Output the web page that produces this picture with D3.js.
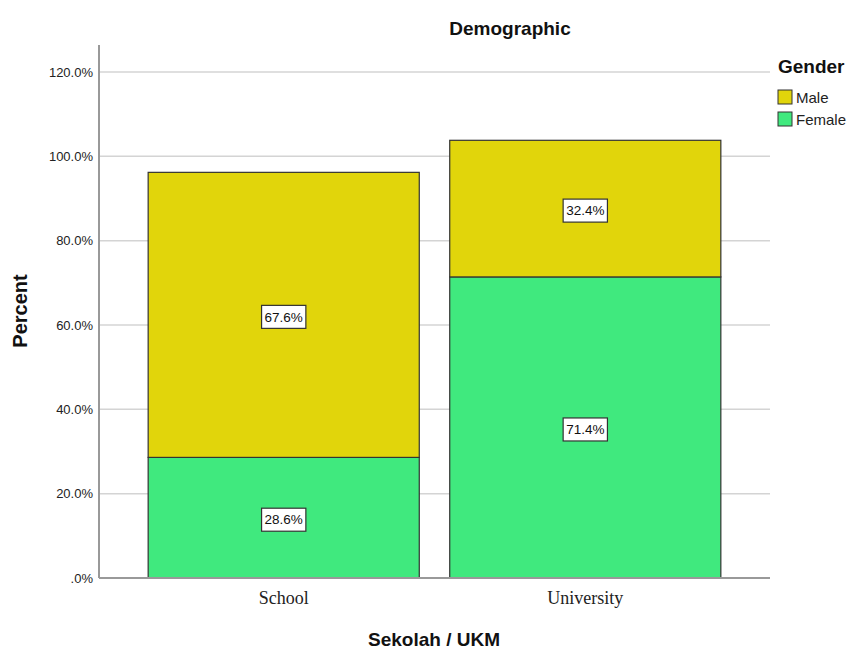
<!DOCTYPE html>
<html><head><meta charset="utf-8">
<script src="https://d3js.org/d3.v7.min.js"></script>
<style>body{margin:0;background:#fff}</style>
</head><body>
<script>
const categories = ["School", "University"];
const seriesNames = ["Female", "Male"];
const femaleValues = [28.6, 71.4];
const maleValues = [67.6, 32.4];
const yTicks = [0, 20, 40, 60, 80, 100, 120];
const legendOrder = ["Male", "Female"];
const colors = {Male: "#e1d50b", Female: "#40e97e"};

const W = 850, H = 650;
const svg = d3.select("body").append("svg").attr("width", W).attr("height", H)
  .style("font-family", "Arial, 'Liberation Sans', sans-serif");

const x0 = 99, x1 = 770, yBot = 578, yTop = 45;
const y = d3.scaleLinear().domain([0, 126.4]).range([yBot, yTop]);
const x = d3.scaleBand().domain(categories).range([x0, x1]).paddingInner(0.101).paddingOuter(0.163);

// grid
svg.append("g").selectAll("line").data(yTicks.filter(d => d > 0)).join("line")
  .attr("x1", x0).attr("x2", x1).attr("y1", d => y(d)).attr("y2", d => y(d))
  .attr("stroke", "#d4d4d4").attr("stroke-width", 1.5);

// y axis labels
svg.append("g").selectAll("text").data(yTicks).join("text")
  .attr("x", 93).attr("y", d => y(d)).attr("dy", "0.35em")
  .attr("text-anchor", "end").attr("font-size", 13).attr("fill", "#222")
  .text(d => d === 0 ? ".0%" : d.toFixed(1) + "%");

// stacked data
const rows = categories.map((c, i) => ({cat: c, Female: femaleValues[i], Male: maleValues[i]}));
const stack = d3.stack().keys(seriesNames)(rows);

const g = svg.append("g");
stack.forEach(layer => {
  const key = layer.key;
  layer.forEach(seg => {
    const cat = seg.data.cat;
    const bx = x(cat), bw = x.bandwidth();
    g.append("rect").attr("x", bx).attr("y", y(seg[1]))
      .attr("width", bw).attr("height", y(seg[0]) - y(seg[1]))
      .attr("fill", colors[key]).attr("stroke", "#333").attr("stroke-width", 1.2);
  });
});
stack.forEach(layer => {
  layer.forEach(seg => {
    const cx = x(seg.data.cat) + x.bandwidth() / 2;
    const cy = y((seg[0] + seg[1]) / 2) + 2;
    const label = (seg[1] - seg[0]).toFixed(1) + "%";
    const t = g.append("text").attr("x", cx).attr("y", cy).attr("dy", "0.35em")
      .attr("text-anchor", "middle").attr("font-size", 13.5).attr("fill", "#111").text(label);
    const bb = t.node().getBBox();
    g.insert("rect", () => t.node()).attr("x", bb.x - 3).attr("y", cy - 11.5)
      .attr("width", bb.width + 6).attr("height", 23)
      .attr("fill", "#fff").attr("stroke", "#333").attr("stroke-width", 1.2);
  });
});

// axes lines
svg.append("line").attr("x1", x0).attr("x2", x0).attr("y1", yTop).attr("y2", yBot)
  .attr("stroke", "#999").attr("stroke-width", 2);
svg.append("line").attr("x1", x0).attr("x2", x1).attr("y1", yBot).attr("y2", yBot)
  .attr("stroke", "#999").attr("stroke-width", 2);

// category labels
svg.append("g").selectAll("text").data(categories).join("text")
  .attr("x", d => x(d) + x.bandwidth() / 2).attr("y", 604)
  .attr("text-anchor", "middle").attr("font-family", "'Liberation Serif', 'Times New Roman', serif")
  .attr("font-size", 18).attr("fill", "#222").text(d => d);

// titles
svg.append("text").attr("x", 510).attr("y", 35).attr("text-anchor", "middle")
  .attr("font-weight", "bold").attr("font-size", 19).attr("fill", "#111").text("Demographic");
svg.append("text").attr("x", 434).attr("y", 646).attr("text-anchor", "middle")
  .attr("font-weight", "bold").attr("font-size", 19).attr("fill", "#111").text("Sekolah / UKM");
svg.append("text").attr("transform", "translate(27,311) rotate(-90)").attr("text-anchor", "middle")
  .attr("font-weight", "bold").attr("font-size", 20).attr("fill", "#111").text("Percent");

// legend
const lg = svg.append("g");
lg.append("text").attr("x", 778).attr("y", 73).attr("font-weight", "bold").attr("font-size", 19)
  .attr("fill", "#111").text("Gender");
legendOrder.forEach((k, i) => {
  lg.append("rect").attr("x", 778).attr("y", 90 + i * 22).attr("width", 14).attr("height", 14)
    .attr("fill", colors[k]).attr("stroke", "#333").attr("stroke-width", 1);
  lg.append("text").attr("x", 796).attr("y", 98 + i * 22).attr("dy", "0.35em")
    .attr("font-size", 15).attr("fill", "#222").text(k);
});
</script>
</body></html>
